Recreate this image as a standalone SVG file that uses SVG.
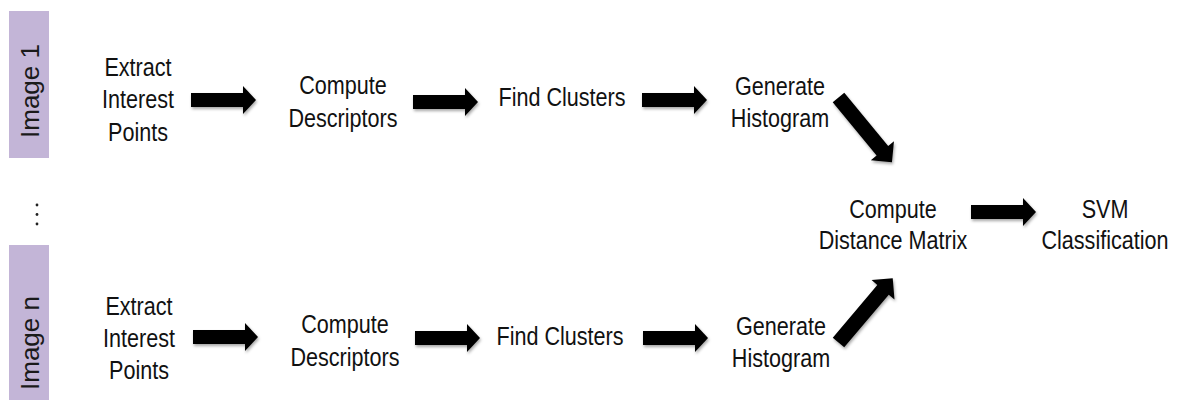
<svg xmlns="http://www.w3.org/2000/svg" width="1177" height="400" viewBox="0 0 1177 400">
<style>
.lbl{font-family:"Liberation Sans",Arial,sans-serif;font-size:26px;fill:#111;text-anchor:middle}
.side{font-family:"Liberation Sans",Arial,sans-serif;font-size:26px;fill:#1a1a1a;text-anchor:middle}
.band{fill:#c3b5d7}
.arrow{fill:#000;filter:url(#sh)}
</style>
<defs>
<filter id="sh" x="-30%" y="-50%" width="160%" height="200%">
<feDropShadow dx="1" dy="2" stdDeviation="1.5" flood-color="#000" flood-opacity="0.35"/>
</filter>
<path id="ah" d="M0,-7 H52 V-14 L65,0 L52,14 V7 H0 Z"/>
<path id="ad" d="M0,-7.5 H69 V-15 L84,0 L69,15 V7.5 H0 Z"/>
</defs>
<rect width="1177" height="400" fill="#fff"/>

<g id="image1">
<rect class="band" x="9" y="11" width="40" height="147"/>
<text class="side" transform="translate(39,91) rotate(-90)">Image 1</text>
</g>
<g id="imagen">
<rect class="band" x="9" y="245" width="40" height="155"/>
<text class="side" transform="translate(39,343) rotate(-90)">Image n</text>
</g>
<g id="ellipsis" fill="#222">
<circle cx="37" cy="205" r="1.4"/>
<circle cx="37" cy="214.5" r="1.4"/>
<circle cx="37" cy="224" r="1.4"/>
</g>

<g id="extract1"><text class="lbl" transform="translate(138,0) scale(0.83,1)"><tspan x="0" y="76">Extract</tspan><tspan x="0" y="108.5">Interest</tspan><tspan x="0" y="141">Points</tspan></text></g>
<g id="descr1"><text class="lbl" transform="translate(343,0) scale(0.83,1)"><tspan x="0" y="94">Compute</tspan><tspan x="0" y="127">Descriptors</tspan></text></g>
<g id="clusters1"><text class="lbl" transform="translate(562,0) scale(0.83,1)"><tspan x="0" y="106">Find Clusters</tspan></text></g>
<g id="hist1"><text class="lbl" transform="translate(780,0) scale(0.83,1)"><tspan x="0" y="95">Generate</tspan><tspan x="0" y="127">Histogram</tspan></text></g>

<g id="extractn"><text class="lbl" transform="translate(139,0) scale(0.83,1)"><tspan x="0" y="315">Extract</tspan><tspan x="0" y="347">Interest</tspan><tspan x="0" y="379">Points</tspan></text></g>
<g id="descrn"><text class="lbl" transform="translate(345,0) scale(0.83,1)"><tspan x="0" y="333">Compute</tspan><tspan x="0" y="366">Descriptors</tspan></text></g>
<g id="clustersn"><text class="lbl" transform="translate(560,0) scale(0.83,1)"><tspan x="0" y="345">Find Clusters</tspan></text></g>
<g id="histn"><text class="lbl" transform="translate(781,0) scale(0.83,1)"><tspan x="0" y="335">Generate</tspan><tspan x="0" y="367">Histogram</tspan></text></g>

<g id="distance"><text class="lbl" transform="translate(893,0) scale(0.83,1)"><tspan x="0" y="218">Compute</tspan><tspan x="0" y="249">Distance Matrix</tspan></text></g>
<g id="svm"><text class="lbl" transform="translate(1105,0) scale(0.83,1)"><tspan x="0" y="218">SVM</tspan><tspan x="0" y="249">Classification</tspan></text></g>

<g id="connectors" class="arrow">
<use href="#ah" transform="translate(191,100)"/>
<use href="#ah" transform="translate(413,102)"/>
<use href="#ah" transform="translate(642,100)"/>
<use href="#ah" transform="translate(193,337)"/>
<use href="#ah" transform="translate(415,338)"/>
<use href="#ah" transform="translate(643,338)"/>
<use href="#ah" transform="translate(971,212)"/>
<use href="#ad" transform="translate(838.5,97.5) rotate(50.5)"/>
<use href="#ad" transform="translate(838.5,342.5) rotate(-49.8)"/>
</g>
</svg>
